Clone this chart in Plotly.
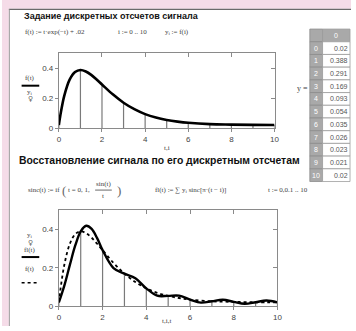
import plotly.graph_objects as go

W, H = 356, 331

# samples y_i = f(i), i = 0..10 (table on the right)
i_idx = list(range(11))
y_vals = [0.02, 0.388, 0.291, 0.169, 0.093, 0.054, 0.035, 0.026, 0.023, 0.021, 0.02]

# f(t)
f_t = [0, 0.05, 0.1, 0.25, 0.5, 0.75, 1, 1.25, 1.5, 1.75, 2, 2.5, 3, 3.5, 4, 4.5, 5, 5.5, 6, 7, 8, 9, 10]
f_v = [0.02, 0.068, 0.110, 0.215, 0.323, 0.374, 0.388, 0.378, 0.355, 0.324, 0.291, 0.225, 0.169,
       0.126, 0.093, 0.070, 0.054, 0.043, 0.035, 0.026, 0.023, 0.021, 0.020]

# fl(t) reconstructed curve (bottom chart)
fl_t = [0, 0.25, 0.5, 0.75, 1, 1.25, 1.5, 1.75, 2, 2.5, 3, 3.5, 4, 4.5, 5, 5.5, 6, 6.5, 7, 7.5, 8, 8.5, 9, 9.5, 10]
fl_v = [0.02, 0.107, 0.213, 0.315, 0.388, 0.417, 0.401, 0.353, 0.291, 0.198, 0.169, 0.145, 0.093,
        0.055, 0.054, 0.055, 0.035, 0.019, 0.026, 0.034, 0.023, 0.013, 0.021, 0.030, 0.02]

x_ticks = [0, 2, 4, 6, 8, 10]
y_ticks = [0, 0.2, 0.4]
y_ticktext = ["0", "0.2", "0.4"]


def px(x):
    return x / W


def py(y):
    return 1 - y / H


GRAY = "#8a8a8a"
TXT = "#444444"

# stems as separated segments
stem_x, stem_y = [], []
for i, v in zip(i_idx, y_vals):
    stem_x += [i, i, None]
    stem_y += [0, v, None]

fig = go.Figure()

# --- top chart
fig.add_trace(go.Scatter(x=stem_x, y=stem_y, mode="lines", line=dict(color="#7a7a7a", width=1.2),
                         xaxis="x", yaxis="y", hoverinfo="skip"))
fig.add_trace(go.Scatter(x=f_t, y=f_v, mode="lines", line=dict(color="black", width=2.6, shape="spline"),
                         xaxis="x", yaxis="y"))
fig.add_trace(go.Scatter(x=[None], y=[None], xaxis="x3", yaxis="y3"))

# --- bottom chart
fig.add_trace(go.Scatter(x=stem_x, y=stem_y, mode="lines", line=dict(color="#7a7a7a", width=1.2),
                         xaxis="x2", yaxis="y2", hoverinfo="skip"))
fig.add_trace(go.Scatter(x=f_t, y=f_v, mode="lines",
                         line=dict(color="black", width=1.8, dash="dot", shape="spline"),
                         xaxis="x2", yaxis="y2"))
fig.add_trace(go.Scatter(x=fl_t, y=fl_v, mode="lines", line=dict(color="black", width=2.4, shape="spline"),
                         xaxis="x2", yaxis="y2"))
fig.add_trace(go.Scatter(x=[None], y=[None], xaxis="x4", yaxis="y4"))

ax_common = dict(range=[0, 10], showgrid=False, zeroline=False, showline=True, linecolor=GRAY,
                 linewidth=1, ticks="outside", ticklen=3, tickcolor=GRAY, tickvals=x_ticks,
                 tickfont=dict(size=8, color=TXT, family="Liberation Sans"), fixedrange=True)
ay_common = dict(range=[0, 0.5], showgrid=False, zeroline=False, showline=True, linecolor=GRAY,
                 linewidth=1, ticks="outside", ticklen=3, tickcolor=GRAY, tickvals=y_ticks,
                 ticktext=y_ticktext, tickfont=dict(size=8, color=TXT, family="Liberation Sans"),
                 fixedrange=True)
top_common = dict(range=[0, 10], showgrid=False, zeroline=False, showline=True, linecolor=GRAY,
                  ticks="inside", ticklen=4, tickcolor=GRAY, tickvals=x_ticks, showticklabels=False,
                  side="top", fixedrange=True)
right_common = dict(range=[0, 0.5], showgrid=False, zeroline=False, showline=True, linecolor=GRAY,
                    ticks="inside", ticklen=4, tickcolor=GRAY, tickvals=y_ticks, showticklabels=False,
                    side="right", fixedrange=True)

fig.update_layout(
    width=W, height=H, margin=dict(l=0, r=0, t=0, b=0),
    paper_bgcolor="white", plot_bgcolor="white", showlegend=False,
    xaxis=dict(ax_common, domain=[px(58), px(278)], anchor="y"),
    yaxis=dict(ay_common, domain=[py(130), py(54)], anchor="x"),
    xaxis3=dict(top_common, overlaying="x", anchor="y"),
    yaxis3=dict(right_common, overlaying="y", anchor="x"),
    xaxis2=dict(ax_common, domain=[px(58), px(281)], anchor="y2"),
    yaxis2=dict(ay_common, domain=[py(311), py(213)], anchor="x2"),
    xaxis4=dict(top_common, overlaying="x2", anchor="y2"),
    yaxis4=dict(right_common, overlaying="y2", anchor="x2"),
)

# page frame (pink margin as in the Mathcad window)
PINK = "#f5dce8"
shapes = [
    dict(type="rect", xref="paper", yref="paper", x0=0, x1=1, y0=py(9), y1=1,
         fillcolor=PINK, line=dict(width=0)),
    dict(type="rect", xref="paper", yref="paper", x0=0, x1=px(7), y0=0, y1=1,
         fillcolor=PINK, line=dict(width=0)),
    dict(type="line", xref="paper", yref="paper", x0=px(7), x1=1, y0=py(9.5), y1=py(9.5),
         line=dict(color="#6a6a6a", width=1.2)),
    dict(type="line", xref="paper", yref="paper", x0=px(7.5), x1=px(7.5), y0=0, y1=py(9.5),
         line=dict(color="#9a9a9a", width=1)),
    # legend strokes next to y labels
    dict(type="line", xref="paper", yref="paper", x0=px(20), x1=px(38), y0=py(87), y1=py(87), line=dict(color="black", width=2)),
    dict(type="line", xref="paper", yref="paper", x0=px(20), x1=px(38), y0=py(261), y1=py(261), line=dict(color="black", width=2)),
    dict(type="line", xref="paper", yref="paper", x0=px(20), x1=px(38), y0=py(287), y1=py(287), line=dict(color="black", width=1.5, dash="dot")),
    # fraction bar of sin(t)/t
    dict(type="line", xref="paper", yref="paper", x0=px(95), x1=px(112), y0=py(193), y1=py(193), line=dict(color=TXT, width=0.8)),
]

# table of y values drawn cell by cell
T_X0, T_X1, T_X2 = 314, 327, 355
T_Y0, ROW = 29.5, 12.9
rows = [("", "0")] + [(str(i), f"{v:g}") for i, v in zip(i_idx, y_vals)]
for r in range(len(rows)):
    top = T_Y0 + r * ROW
    bot = top + ROW
    shapes.append(dict(type="rect", xref="paper", yref="paper", x0=px(T_X0), x1=px(T_X1), y0=py(bot), y1=py(top),
                       fillcolor="#a9a9a9", line=dict(color="#8c8c8c", width=0.8)))
    shapes.append(dict(type="rect", xref="paper", yref="paper", x0=px(T_X1), x1=px(T_X2), y0=py(bot), y1=py(top),
                       fillcolor="#a9a9a9" if r == 0 else "white", line=dict(color="#9c9c9c", width=0.8)))
fig.update_layout(shapes=shapes)


def note(text, x, y, size=8, family="Liberation Serif", color=TXT, xanchor="left", bold=False):
    if bold:
        text = f"<b>{text}</b>"
    fig.add_annotation(text=text, x=px(x), y=py(y), xref="paper", yref="paper", showarrow=False,
                       xanchor=xanchor, yanchor="middle", borderpad=0,
                       font=dict(size=size, family=family, color=color))


for r, (a, b) in enumerate(rows):
    yc = T_Y0 + r * ROW + ROW / 2
    if a:
        note(a, (T_X0 + T_X1) / 2, yc, size=7, family="Liberation Sans", color="white", xanchor="center")
    if r == 0:
        note(b, (T_X1 + T_X2) / 2, yc, size=7, family="Liberation Sans", color="white", xanchor="center")
    else:
        note(b, T_X2 - 1.5, yc, size=7, family="Liberation Sans", color="#555555", xanchor="right")

BOLD = "Liberation Sans"
note("Задание дискретных отсчетов сигнала", 21, 16, size=9, family=BOLD, color="#111111", bold=True)
note("f(t) := t·exp(−t) + .02", 22, 32, size=7)
note("i := 0 .. 10", 117, 32, size=7)
note("y<sub>i</sub> := f(i)", 165, 32, size=7)

note("Восстановление сигнала по его дискретным отсчетам", 16, 163, size=10.4, family=BOLD, color="#111111", bold=True)
note("sinc(t) := if", 25, 193, size=7)
note("(", 60, 193, size=13, color="#666666")
note("t = 0, 1,", 66, 193, size=7)
note("sin(t)", 103.5, 187, size=7, xanchor="center")
note("t", 103.5, 199, size=7, xanchor="center")
note(")", 116, 193, size=13, color="#666666")
note("fl(t) := ∑ y<sub>i</sub> sinc[π·(t − i)]", 155, 193, size=7)
note("t := 0,0.1 .. 10", 270, 193, size=7)

note("y =", 300, 90, size=8)

# axis titles in Mathcad style
note("f(t)", 29, 79, size=7, xanchor="center")
note("y<sub>i</sub>", 29, 93, size=7, xanchor="center")
note("♀", 29, 101, size=7, xanchor="center", family="DejaVu Sans", color="#666666")
note("t,i", 168, 150, size=7, xanchor="center")

note("y<sub>i</sub>", 29, 239, size=7, xanchor="center")
note("♀", 29, 247, size=7, xanchor="center", family="DejaVu Sans", color="#666666")
note("fl(t)", 29, 254, size=7, xanchor="center")
note("f(t)", 29, 273, size=7, xanchor="center")
note("t,i,t", 168, 326, size=7, xanchor="center")

fig.write_html("out.html", config={"displayModeBar": False},
               post_script="document.body.style.margin='0';")
